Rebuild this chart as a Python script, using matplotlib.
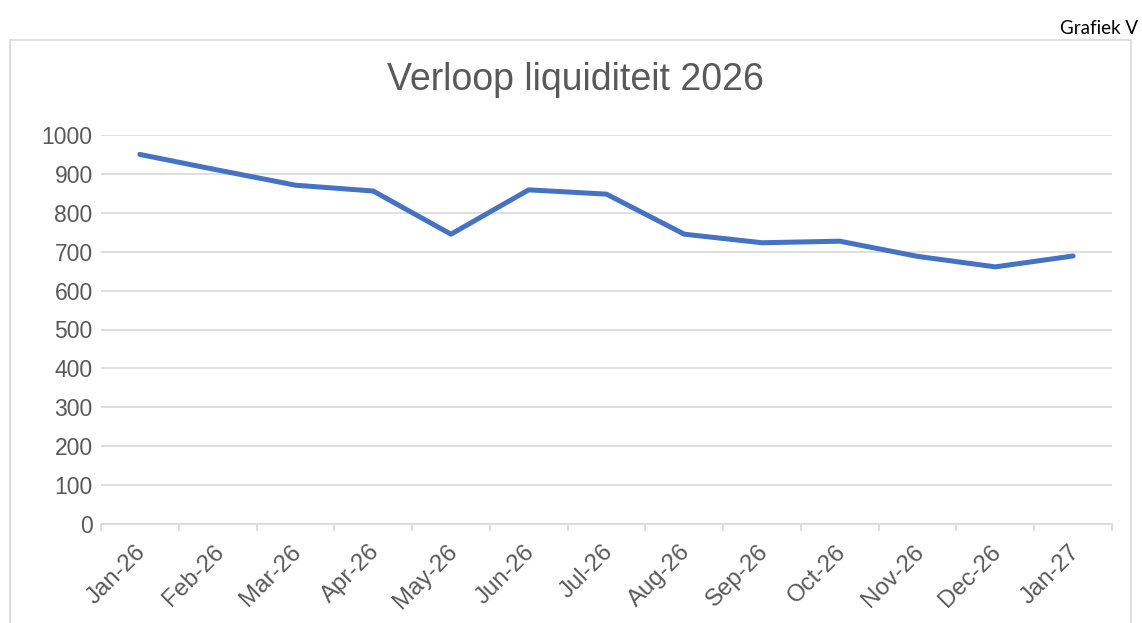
import matplotlib.pyplot as plt
import matplotlib.transforms as mtransforms
from matplotlib.patches import Rectangle
from matplotlib.ticker import FixedLocator, MultipleLocator

plt.rcParams["font.family"] = ["Liberation Sans", "DejaVu Sans"]

months = ["Jan-26", "Feb-26", "Mar-26", "Apr-26", "May-26", "Jun-26", "Jul-26",
          "Aug-26", "Sep-26", "Oct-26", "Nov-26", "Dec-26", "Jan-27"]
liquidity = [950, 910, 871, 856, 745, 859, 848, 745, 723, 727, 688, 661, 689]

TEXT = "#595959"
GRID = "#D9D9D9"
LINE = "#4472C4"

fig = plt.figure(figsize=(11.42, 6.23), dpi=100)

# chart frame (bottom runs off the image)
fig.patches.append(Rectangle((10 / 1142, -0.05), 1121 / 1142, 1.05 - 40 / 623,
                             transform=fig.transFigure, fill=False,
                             edgecolor=GRID, linewidth=1.2))
fig.text(1138 / 1142, 1 - 28 / 623, "Grafiek V", ha="right", va="center",
         fontsize=13.5, color="#000000", family=["Lato", "DejaVu Sans"])
fig.text(575 / 1142, 1 - 80 / 623, "Verloop liquiditeit 2026", ha="center",
         va="center", fontsize=27, color=TEXT)

ax = fig.add_axes([101 / 1142, 99 / 623, 1011 / 1142, 389 / 623])
x = list(range(len(months)))
ax.plot(x, liquidity, color=LINE, linewidth=3.6, solid_capstyle="round",
        solid_joinstyle="round", zorder=3)

ax.set_xlim(-0.5, len(months) - 0.5)
ax.set_ylim(0, 1000)
ax.yaxis.set_major_locator(MultipleLocator(100))
ax.grid(axis="y", color=GRID, linewidth=1.2, zorder=0)

for side in ["top", "right", "left"]:
    ax.spines[side].set_visible(False)
ax.spines["bottom"].set_color(GRID)
ax.spines["bottom"].set_linewidth(1.2)

ax.tick_params(axis="y", length=0, labelsize=16.5, labelcolor=TEXT, pad=6)
ax.set_xticks(x)
ax.set_xticklabels(months, rotation=45, ha="right", va="top",
                   rotation_mode="anchor", fontsize=17.3, color=TEXT)
ax.tick_params(axis="x", which="major", length=0, pad=12)
ax.xaxis.set_minor_locator(FixedLocator([i - 0.5 for i in range(len(months) + 1)]))
ax.tick_params(axis="x", which="minor", length=5, color=GRID, width=1.2)

shift = mtransforms.ScaledTranslation(-5 / 100, 0, fig.dpi_scale_trans)
for lbl in ax.get_xticklabels():
    lbl.set_transform(lbl.get_transform() + shift)

fig.savefig("out.png", dpi=100)
